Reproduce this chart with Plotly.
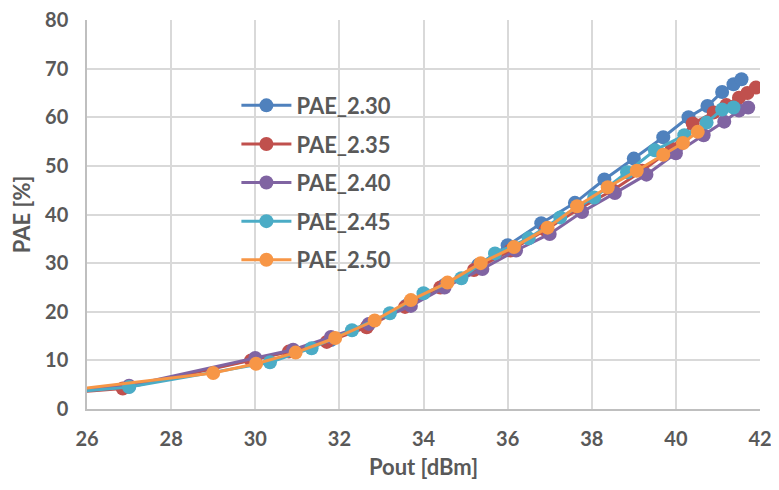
import plotly.graph_objects as go

names = ["PAE_2.30", "PAE_2.35", "PAE_2.40", "PAE_2.45", "PAE_2.50"]
colors = ["#4F81BD", "#C0504D", "#8064A2", "#4BACC6", "#F79646"]

x_230 = [25.0, 27.0, 30.0, 30.9, 31.8, 32.7, 33.6, 34.5, 35.3, 36.0, 36.8, 37.6, 38.3, 39.0, 39.7, 40.3, 40.75, 41.1, 41.37, 41.56]
y_230 = [3.0, 4.6, 10.3, 12.0, 14.2, 17.4, 21.3, 25.5, 29.6, 33.7, 38.2, 42.4, 47.2, 51.5, 55.9, 60.0, 62.3, 65.2, 66.8, 67.8]

x_235 = [25.0, 26.85, 29.9, 30.8, 31.7, 32.65, 33.56, 34.4, 35.2, 36.07, 36.9, 37.7, 38.5, 39.2, 39.9, 40.4, 40.9, 41.2, 41.5, 41.7, 41.9]
y_235 = [3.0, 4.2, 10.0, 11.8, 13.8, 16.8, 21.0, 25.0, 28.6, 32.6, 36.8, 41.2, 45.0, 49.0, 53.5, 58.7, 61.0, 62.5, 64.0, 65.0, 66.1]

x_240 = [25.0, 27.0, 30.0, 30.9, 31.8, 32.7, 33.7, 34.5, 35.4, 36.2, 37.0, 37.77, 38.55, 39.3, 40.0, 40.66, 41.15, 41.5, 41.72]
y_240 = [3.2, 4.8, 10.5, 12.2, 14.8, 17.5, 21.2, 25.0, 28.8, 32.6, 36.0, 40.5, 44.4, 48.2, 52.6, 56.3, 59.1, 61.4, 62.0]

x_245 = [25.0, 27.0, 30.35, 31.34, 32.3, 33.2, 34.0, 34.9, 35.7, 36.5, 37.25, 38.06, 38.84, 39.5, 40.2, 40.73, 41.1, 41.37]
y_245 = [3.0, 4.5, 9.6, 12.5, 16.2, 19.7, 23.8, 26.9, 32.0, 35.1, 39.4, 43.5, 48.7, 53.2, 56.3, 58.9, 61.6, 62.0]

x_250 = [25.0, 29.0, 30.02, 30.96, 31.9, 32.84, 33.7, 34.57, 35.36, 36.15, 36.95, 37.65, 38.38, 39.07, 39.7, 40.17, 40.52]
y_250 = [3.3, 7.4, 9.3, 11.6, 14.6, 18.2, 22.4, 26.0, 30.0, 33.3, 37.3, 41.7, 45.6, 49.0, 52.3, 54.7, 57.0]

xs = [x_230, x_235, x_240, x_245, x_250]
ys = [y_230, y_235, y_240, y_245, y_250]

x_ticks = [26, 28, 30, 32, 34, 36, 38, 40, 42]
y_ticks = [0, 10, 20, 30, 40, 50, 60, 70, 80]

FONT = "Lato"
GRAY = "#595959"

fig = go.Figure()
for n, c, x, y in zip(names, colors, xs, ys):
    fig.add_trace(go.Scatter(
        x=x, y=y, name=n, mode="lines+markers", legendgroup=n,
        line=dict(color=c, width=3),
        marker=dict(color=c, size=14),
    ))

fig.update_layout(
    width=763, height=474,
    margin=dict(l=79, r=11, t=12, b=73),
    paper_bgcolor="white", plot_bgcolor="white",
    font=dict(family=FONT, color=GRAY, size=20),
    legend=dict(
        x=0.222, y=0.834, xanchor="left", yanchor="top",
        bgcolor="rgba(0,0,0,0)", tracegroupgap=7,
        font=dict(family=FONT, size=22, color=GRAY, weight="bold"),
        itemwidth=50,
    ),
    xaxis=dict(
        range=[26, 42], tickvals=x_ticks, ticktext=[str(v) for v in x_ticks],
        showgrid=True, gridcolor="#D9D9D9", gridwidth=1.5,
        showline=True, linecolor="#BFBFBF", linewidth=1.5,
        zeroline=False, ticks="outside", ticklen=11, tickcolor="rgba(0,0,0,0)",
        automargin=False, ticklabeloverflow="allow",
        tickfont=dict(family=FONT, size=20, color=GRAY, weight="bold"),
        title=dict(text="Pout [dBm]", standoff=11,
                   font=dict(family=FONT, size=22, color=GRAY, weight="bold")),
    ),
    yaxis=dict(
        range=[0, 80], tickvals=y_ticks, ticktext=[str(v) for v in y_ticks],
        showgrid=True, gridcolor="#D9D9D9", gridwidth=1.5,
        showline=True, linecolor="#BFBFBF", linewidth=1.5,
        zeroline=False, ticks="outside", ticklen=13, tickcolor="rgba(0,0,0,0)",
        automargin=False, ticklabeloverflow="allow",
        tickfont=dict(family=FONT, size=20, color=GRAY, weight="bold"),
        title=dict(text="PAE [%]", standoff=10,
                   font=dict(family=FONT, size=22, color=GRAY, weight="bold")),
    ),
)

fig.write_html("out.html")
